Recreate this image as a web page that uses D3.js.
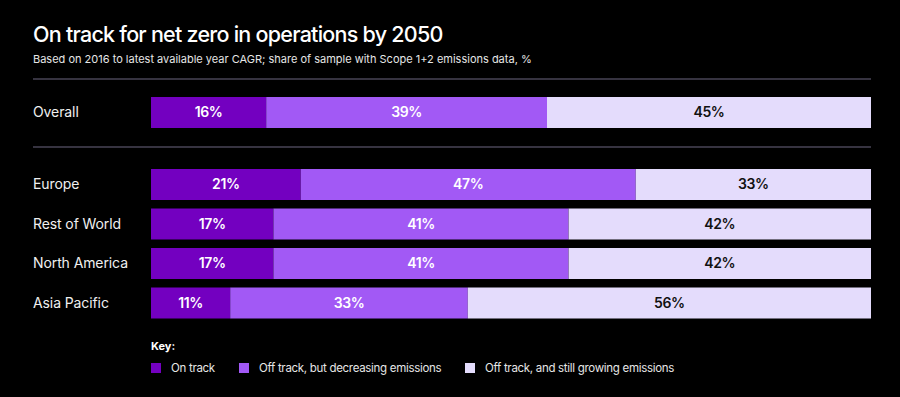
<!DOCTYPE html>
<html>
<head>
<meta charset="utf-8">
<script src="https://cdn.jsdelivr.net/npm/d3@7"></script>
<style>
  html, body { margin: 0; padding: 0; background: #000; }
  svg { display: block; font-family: Inter, "Open Sans", sans-serif; }
</style>
</head>
<body>
<svg id="main-svg" width="900" height="397"></svg>
<script>
(function() {

    // categories
    var regions = ["Overall", "Europe", "Rest of World", "North America", "Asia Pacific"];
    var seriesKeys = ["onTrack", "decreasing", "growing"];
    var seriesNames = ["On track", "Off track, but decreasing emissions", "Off track, and still growing emissions"];

    // series values, %
    var onTrack    = [16, 21, 17, 17, 11];
    var decreasing = [39, 47, 41, 41, 33];
    var growing    = [45, 33, 42, 42, 56];

    var colors = ["#7300c0", "#a259f5", "#e4dcfc"];
    var textColors = ["#ffffff", "#ffffff", "#111111"];

    var rows = regions.map(function(r, i) {
        return { region: r, onTrack: onTrack[i], decreasing: decreasing[i], growing: growing[i] };
    });

    var svg = d3.select("#main-svg");

    // title
    svg.append("text")
    .attr("x", 33).attr("y", 42)
    .attr("fill", "#fff")
    .attr("font-size", 21.5)
    .attr("font-weight", 500)
    .attr("letter-spacing", -0.75)
    .text("On track for net zero in operations by 2050");

    svg.append("text")
    .attr("x", 33).attr("y", 63)
    .attr("fill", "#e6e6e6")
    .attr("font-size", 11)
    .text("Based on 2016 to latest available year CAGR; share of sample with Scope 1+2 emissions data, %");

    // separators
    [79, 147].forEach(function(y) {
        svg.append("line")
        .attr("x1", 33).attr("x2", 871)
        .attr("y1", y).attr("y2", y)
        .attr("stroke", "#6d6680")
        .attr("stroke-width", 1.2);
    });

    var x = d3.scaleLinear().domain([0, 1]).range([151, 871]);

    // Overall sits above the separator, the regions below it
    var yPos = [97, 169, 208.5, 248, 287.5];
    var barH = 31;

    var stack = d3.stack().keys(seriesKeys).offset(d3.stackOffsetExpand);
    var layers = stack(rows);

    var g = svg.append("g");

    g.selectAll(".row-label")
    .data(regions)
    .enter()
    .append("text")
    .attr("x", 33)
    .attr("y", function(d, i) { return yPos[i] + barH / 2; })
    .attr("dy", "0.35em")
    .attr("fill", "#f0f0f0")
    .attr("font-size", 14)
    .attr("letter-spacing", -0.1)
    .text(function(d) { return d; });

    layers.forEach(function(layer, k) {
        var lg = g.append("g");
        lg.selectAll("rect")
        .data(layer)
        .enter()
        .append("rect")
        .attr("x", function(d) { return x(d[0]); })
        .attr("y", function(d, i) { return yPos[i]; })
        .attr("width", function(d) { return x(d[1]) - x(d[0]); })
        .attr("height", barH)
        .attr("fill", colors[k]);

        lg.selectAll("text")
        .data(layer)
        .enter()
        .append("text")
        .attr("x", function(d) { return (x(d[0]) + x(d[1])) / 2; })
        .attr("y", function(d, i) { return yPos[i] + barH / 2; })
        .attr("dy", "0.35em")
        .attr("text-anchor", "middle")
        .attr("fill", textColors[k])
        .attr("font-size", 14)
        .attr("font-weight", 600)
        .attr("letter-spacing", -0.4)
        .text(function(d) { return d.data[layer.key] + "%"; });
    });

    // key
    svg.append("text")
    .attr("x", 151).attr("y", 350)
    .attr("fill", "#fff")
    .attr("font-size", 11)
    .attr("font-weight", 700)
    .text("Key:");

    var keyX = [151, 239, 465];
    var key = svg.selectAll(".key")
    .data(seriesNames)
    .enter()
    .append("g")
    .attr("transform", function(d, i) { return "translate(" + keyX[i] + ",363)"; });

    key.append("rect")
    .attr("width", 10).attr("height", 10)
    .attr("fill", function(d, i) { return colors[i]; });

    key.append("text")
    .attr("x", 20).attr("y", 5)
    .attr("dy", "0.35em")
    .attr("fill", "#e6e6e6")
    .attr("font-size", 11.5)
    .attr("letter-spacing", -0.3)
    .text(function(d) { return d; });
})();
</script>
</body>
</html>
